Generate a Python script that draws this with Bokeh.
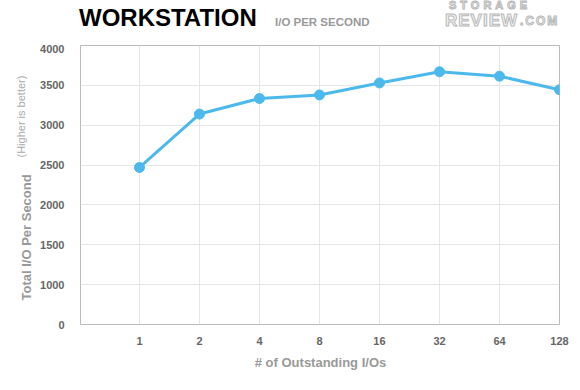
import math
from bokeh.plotting import figure
from bokeh.models import Label, FixedTicker, Range1d, Div
from bokeh.layouts import column
from bokeh.embed import file_html
from bokeh.resources import INLINE

# ---- data ----
categories = ["1", "2", "4", "8", "16", "32", "64", "128"]
iops = [2470, 3140, 3335, 3380, 3530, 3670, 3615, 3445]
y_ticks = [500, 1000, 1500, 2000, 2500, 3000, 3500, 4000]
y_tick_labels = ["0", "1000", "1500", "2000", "2500", "3000", "3500", "4000"]
title_text = "WORKSTATION"
subtitle_text = "I/O PER SECOND"
x_title = "# of Outstanding I/Os"
y_title = "Total I/O Per Second"
y_note = "(Higher is better)"

W, H = 580, 390
HEAD = 44
L, R, T, B = 80, 21, 1, 66
FONT = "Liberation Sans"
LINE = "#4cb9ec"

xs = list(range(len(categories)))
x0, x1 = -0.983, len(categories) - 1
y0, y1 = 500, 4000

# ---- header (title + logo) ----
def span(text, left, top, size, color, weight="bold", extra=""):
    return (f"<span style=\"position:absolute;left:{left}px;top:{top}px;font-family:'{FONT}';"
            f"font-size:{size}px;line-height:1;font-weight:{weight};color:{color};"
            f"white-space:nowrap;{extra}\">{text}</span>")

logo_style = "-webkit-text-stroke:1px #b8b8b8;"
head_html = ("<div style=\"position:relative;width:580px;height:44px;overflow:hidden;margin:0;padding:0\">"
             + span(title_text, 79, 6, 24, "#000000")
             + span(subtitle_text, 275, 17, 11.5, "#999999")
             + span("STORAGE", 449, 0, 11, "#f4f4f4", extra=logo_style + "letter-spacing:4px;")
             + span("REVIEW", 445, 12, 17, "#f4f4f4", extra=logo_style + "letter-spacing:1px;")
             + span(".COM", 520, 15, 12, "#f4f4f4", extra=logo_style + "letter-spacing:2px;")
             + "</div>")
header = Div(text=head_html, width=W, height=HEAD, margin=(0, 0, 0, 0))

# ---- chart ----
p = figure(width=W, height=H - HEAD, output_backend="svg", toolbar_location=None,
           x_range=Range1d(x0, x1), y_range=Range1d(y0, y1), margin=(0, 0, 0, 0),
           min_border_left=L, min_border_right=R, min_border_top=T, min_border_bottom=B)
p.background_fill_color = "white"
p.border_fill_color = "white"
p.outline_line_color = "#bbbbbb"
p.outline_line_width = 1

p.xgrid.ticker = FixedTicker(ticks=xs)
p.ygrid.ticker = FixedTicker(ticks=y_ticks)
for g in (p.xgrid, p.ygrid):
    g.grid_line_color = "#e6e6e6"
    g.grid_line_width = 1

p.xaxis.ticker = FixedTicker(ticks=xs)
p.xaxis.major_label_overrides = {i: c for i, c in zip(xs, categories)}
p.yaxis.ticker = FixedTicker(ticks=y_ticks)
p.yaxis.major_label_overrides = {v: t for v, t in zip(y_ticks, y_tick_labels)}
for ax in (p.xaxis, p.yaxis):
    ax.axis_line_color = None
    ax.major_tick_line_color = None
    ax.minor_tick_line_color = None
    ax.major_label_text_font = FONT
    ax.major_label_text_font_size = "11px"
    ax.major_label_text_font_style = "bold"
    ax.major_label_text_color = "#666666"
p.yaxis.major_label_standoff = 10
p.xaxis.major_label_standoff = 6

p.line(xs, iops, line_color=LINE, line_width=3)
p.scatter(xs, iops, size=10, fill_color=LINE, line_color=LINE)

def mk(text, x, y, size, color, style="normal", align="left", baseline="alphabetic", angle=0.0):
    return Label(x=x, y=y, x_units="screen", y_units="screen",
                 text=text, text_font=FONT, text_font_size=size, text_color=color,
                 text_font_style=style, text_align=align, text_baseline=baseline, angle=angle)

p.add_layout(mk(x_title, 240, 0, "13px", "#999999", "bold", align="center"), "below")
p.add_layout(mk(y_title, 3.5, 24, "13px", "#999999", "bold",
                baseline="middle", angle=math.pi / 2), "left")
p.add_layout(mk(y_note, 10, 167, "11px", "#aaaaaa",
                baseline="middle", angle=math.pi / 2), "left")

layout = column(header, p, spacing=0, margin=(0, 0, 0, 0))
open("out.html", "w").write(file_html(layout, INLINE))
